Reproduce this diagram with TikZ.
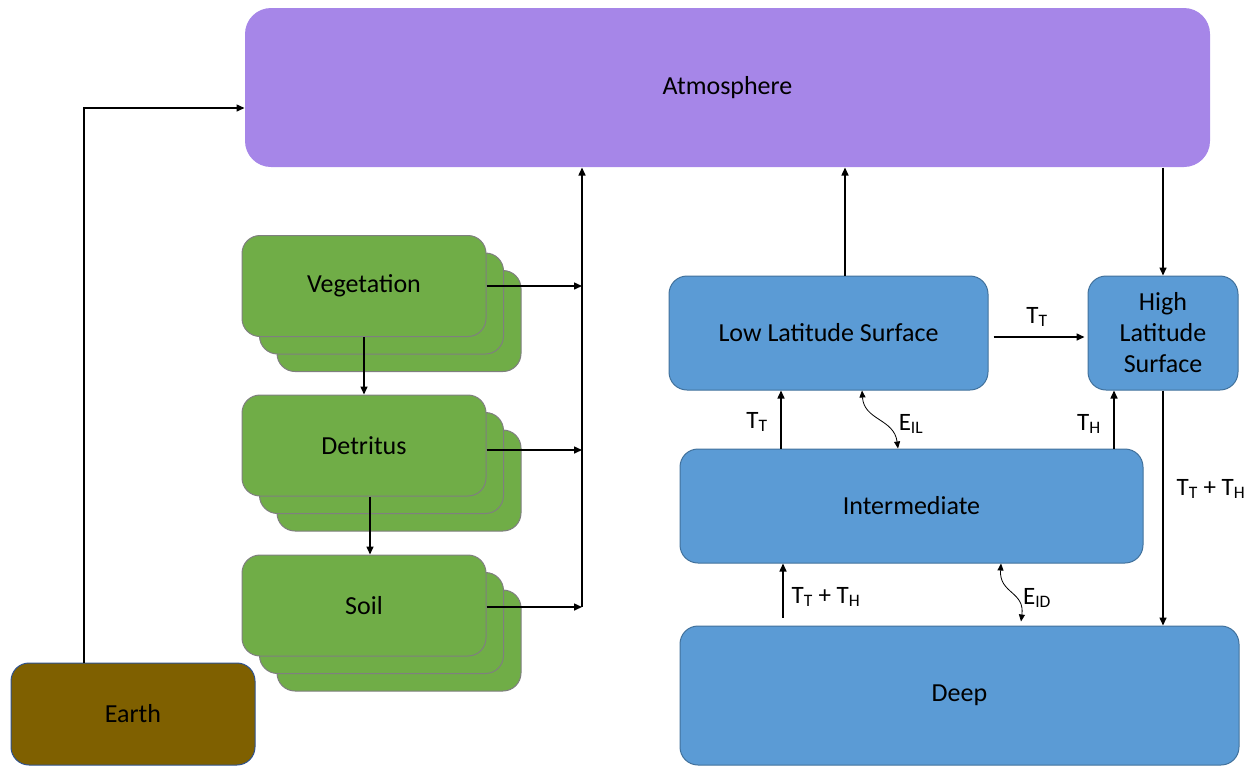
\documentclass[tikz,border=0pt]{standalone}
\usepackage{fontspec}
\setmainfont{Carlito}
\usetikzlibrary{arrows.meta}
\definecolor{atmc}{HTML}{A686E8}
\definecolor{bluec}{HTML}{5B9BD5}
\definecolor{blueb}{HTML}{41719C}
\definecolor{greenc}{HTML}{70AD47}
\definecolor{greenb}{HTML}{7F7F7F}
\definecolor{earthc}{HTML}{7F6000}
\definecolor{earthb}{HTML}{2F528F}
\tikzset{
  box/.style={rectangle, rounded corners=18pt, inner sep=0pt, font=\fontsize{26}{31}\selectfont, align=center, line width=1pt},
  atmbox/.style={box, fill=atmc, rounded corners=26pt},
  bluebox/.style={box, fill=bluec, draw=blueb},
  greenbox/.style={box, fill=greenc, draw=greenb, minimum width=244pt, minimum height=101pt},
  earthbox/.style={box, fill=earthc, draw=earthb},
  arr/.style={line width=1.5pt, -{Triangle[length=8pt,width=7pt]}},
  earr/.style={line width=0.8pt, {Triangle[length=7pt,width=6pt]}-{Triangle[length=7pt,width=6pt]}},
  lab/.style={font=\fontsize{25}{30}\selectfont, inner sep=0pt}
}
\begin{document}
\begin{tikzpicture}[x=1pt,y=-1pt]
\useasboundingbox (0,0) rectangle (1257,766);
% nodes
\node[atmbox, minimum width=965pt, minimum height=159pt] (atm) at (727.5,87.5) {Atmosphere};
\node[earthbox, minimum width=244pt, minimum height=102pt] (earth) at (133,714) {Earth};
% green stacks
\node[greenbox] (veg3) at (399,321) {};
\node[greenbox] (veg2) at (381.5,303.5) {};
\node[greenbox] (veg) at (364,286) {Vegetation};
\node[greenbox] (det3) at (399,480.5) {};
\node[greenbox] (det2) at (381.5,463) {};
\node[greenbox] (det) at (364,445.5) {Detritus};
\node[greenbox] (soil3) at (399,640.5) {};
\node[greenbox] (soil2) at (381.5,623) {};
\node[greenbox] (soil) at (364,605.5) {Soil};
% ocean
\node[bluebox, minimum width=319pt, minimum height=114pt] (low) at (828.5,333) {Low Latitude Surface};
\node[bluebox, minimum width=150pt, minimum height=114pt] (high) at (1163,333) {High\\Latitude\\Surface};
\node[bluebox, minimum width=463pt, minimum height=114pt] (int) at (911.5,506) {Intermediate};
\node[bluebox, minimum width=559pt, minimum height=139pt] (deep) at (959.5,695.5) {Deep};
% bus
\coordinate (bus) at (582,400);
% connectors: land
\draw[arr] ([xshift=-49]earth.north) |- ([yshift=-20.5]atm.west);
\draw[arr] (veg.east) -- (veg.east -| bus);
\draw[arr] ([yshift=-4.5]det.east) -- ([yshift=-4.5]det.east -| bus);
\draw[arr] ([yshift=-1.5]soil.east) -- ([yshift=-1.5]soil.east -| bus);
\draw[arr] ([yshift=-1.5]soil.east -| bus) -- (bus |- atm.south);
\draw[arr] (veg.south) -- (det.north);
\draw[arr] ([xshift=6]det.south) -- ([xshift=6]soil.north);
% connectors: ocean
\draw[arr] ([xshift=16.5]low.north) -- ([xshift=16.5]low.north |- atm.south);
\draw[arr] (high.north |- atm.south) -- (high.north);
\draw[arr] ([xshift=5,yshift=-4]low.east) -- ([xshift=-3,yshift=-4]high.west);
\draw[arr] ([xshift=-130.5]int.north) -- ([xshift=-130.5]int.north |- low.south);
\draw[arr] ([xshift=-49]high.south |- int.north) -- ([xshift=-49]high.south);
\draw[arr] (high.south) -- (high.south |- deep.north);
\draw[arr] ([xshift=-176.5,yshift=8]deep.north) -- ([xshift=-176.5]deep.north |- int.south);
\draw[earr] ([xshift=33.5]low.south) .. controls +(2,30) and +(-4,-30) .. ([xshift=-13.5]int.north);
\draw[earr] ([xshift=89.5]int.south) .. controls +(-2,30) and +(4,-30) .. ([xshift=61.5,yshift=4]deep.north);
% labels
\node[lab] (l1) at (1037,317) {T\textsubscript{T}};
\node[lab] (l2) at (757,422) {T\textsubscript{T}};
\node[lab] (l3) at (1089,424) {T\textsubscript{H}};
\node[lab] (l4) at (1211,489) {T\textsubscript{T} + T\textsubscript{H}};
\node[lab] (l5) at (826,597) {T\textsubscript{T} + T\textsubscript{H}};
\node[lab] (l6) at (911,424) {E\textsubscript{IL}};
\node[lab] (l7) at (1037,598) {E\textsubscript{ID}};
\end{tikzpicture}
\end{document}
